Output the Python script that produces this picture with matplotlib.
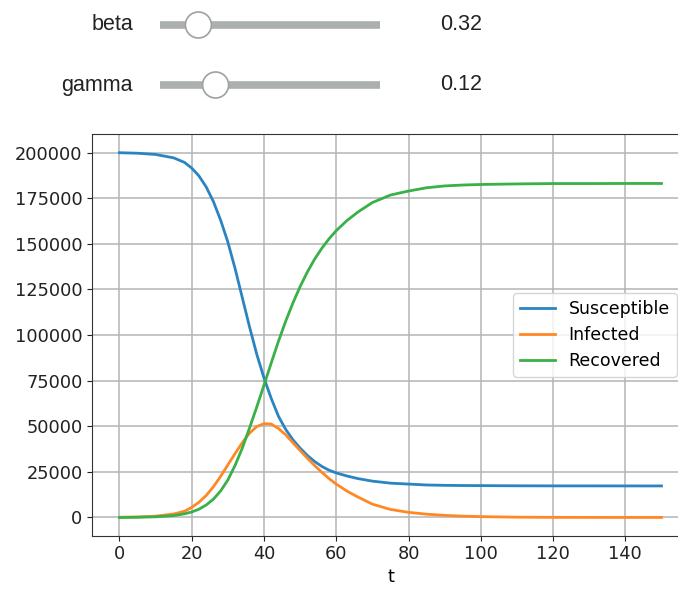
import matplotlib
matplotlib.use("Agg")
import matplotlib.pyplot as plt
from matplotlib.patches import Circle

# values
t = [0, 5, 10, 15, 18, 20, 22, 24, 26, 28, 30, 32, 34, 36, 38, 40, 42, 44, 46, 48,
     50, 52, 54, 56, 58, 60, 63, 66, 70, 75, 80, 85, 90, 95, 100, 110, 120, 130, 140, 150]
susceptible = [199900, 199630, 198950, 197100, 194600, 191500, 187200, 181200, 173200, 163000,
               151000, 136500, 120500, 104500, 89500, 76500, 65300, 55500, 48300, 42600,
               38000, 34000, 30700, 28000, 25900, 24400, 22700, 21300, 19900, 18800,
               18300, 17800, 17600, 17500, 17450, 17350, 17300, 17300, 17280, 17270]
infected = [100, 270, 700, 1900, 3400, 5500, 8300, 12000, 16800, 22500,
            28800, 35000, 41000, 46200, 49800, 51400, 51200, 48800, 45300, 41000,
            36700, 32500, 28500, 24800, 21300, 18300, 14400, 11200, 7300, 4400,
            2800, 1800, 1150, 720, 450, 160, 60, 25, 10, 4]
recovered = [0, 100, 350, 1000, 2000, 3000, 4500, 6800, 10000, 14500,
             20500, 28500, 38000, 49000, 60500, 72500, 84600, 96500, 107500, 117500,
             126500, 134500, 141500, 147500, 152700, 157200, 162800, 167400, 172600, 176700,
             178900, 180700, 181700, 182200, 182500, 182800, 183000, 183000, 183050, 183050]

slider_names = ["beta", "gamma"]
slider_values = [0.32, 0.12]
slider_max = [2.0, 0.5]

fig = plt.figure(figsize=(6.78, 5.89), dpi=100)

# widget area drawn in pixel coordinates
ui = fig.add_axes([0, 0, 1, 1])
ui.set_xlim(0, 678)
ui.set_ylim(589, 0)
ui.axis("off")
ui_font = dict(family="Liberation Sans", fontsize=15.5, color="#222222")
for i, (name, val, vmax) in enumerate(zip(slider_names, slider_values, slider_max)):
    y = 25 + 60 * i
    ui.text(133, y, name, ha="right", va="center", **ui_font)
    ui.plot([160, 380], [y, y], color="#abafad", lw=5.5, solid_capstyle="butt")
    knob_x = 164 + val / vmax * 215
    ui.add_patch(Circle((knob_x, y), 13, facecolor="white", edgecolor="#a0a0a0", lw=1.2, zorder=3))
    ui.text(440, y, f"{val:.2f}", ha="left", va="center", **ui_font)

ax = fig.add_axes([92.3 / 678, 53.3 / 589, 596.3 / 678, 401.4 / 589])
ax.plot(t, susceptible, lw=2, color="#2a84c2", label="Susceptible")
ax.plot(t, infected, lw=2, color="#ff8826", label="Infected")
ax.plot(t, recovered, lw=2, color="#39b048", label="Recovered")
ax.set_xlim(-7.5, 157.5)
ax.set_ylim(-10000, 210000)
ax.set_xticks(range(0, 160, 20))
ax.set_yticks(range(0, 200001, 25000))
ax.tick_params(labelsize=12.8, colors="#222222")
for sp in ax.spines.values():
    sp.set_color("#333333")
ax.set_xlabel("t", fontsize=12.8, labelpad=3)
ax.grid(True, color="#b4b4b4", lw=1.1)
ax.legend(loc="center right", bbox_to_anchor=(0.995, 0.5), fontsize=12.5,
          handlelength=2.0, borderpad=0.4, labelspacing=0.45)

fig.savefig("out.png", dpi=100)
